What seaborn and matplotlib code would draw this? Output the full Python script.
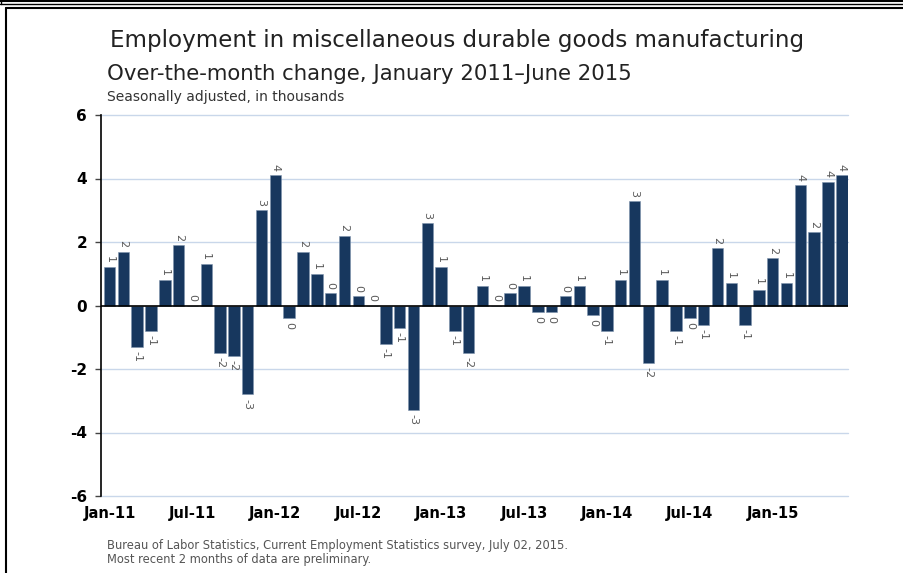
import numpy as np
import pandas as pd
import matplotlib
matplotlib.use("Agg")
import matplotlib.pyplot as plt
from matplotlib.lines import Line2D
import seaborn as sns

# ---- data ----
months = pd.date_range("2011-01-01", "2015-06-01", freq="MS").strftime("%b-%y").tolist()
values = [1.2, 1.7, -1.3, -0.8, 0.8, 1.9, 0.0, 1.3, -1.5, -1.6, -2.8, 3.0,
          4.1, -0.4, 1.7, 1.0, 0.4, 2.2, 0.3, 0.0, -1.2, -0.7, -3.3, 2.6,
          1.2, -0.8, -1.5, 0.6, 0.0, 0.4, 0.6, -0.2, -0.2, 0.3, 0.6, -0.3,
          -0.8, 0.8, 3.3, -1.8, 0.8, -0.8, -0.4, -0.6, 1.8, 0.7, -0.6, 0.5,
          1.5, 0.7, 3.8, 2.3, 3.9, 4.1]
xtick_labels = ["Jan-11", "Jul-11", "Jan-12", "Jul-12", "Jan-13", "Jul-13",
                "Jan-14", "Jul-14", "Jan-15"]
yticks = [-6, -4, -2, 0, 2, 4, 6]

df = pd.DataFrame({"month": months, "value": values})

W, H = 904, 573
fig = plt.figure(figsize=(W / 100, H / 100), dpi=100)
sns.set_style("white")
plt.rcParams["font.family"] = ["DejaVu Sans"]

ax = fig.add_axes([101 / W, 1 - 496 / H, (848 - 101) / W, (496 - 115) / H])
sns.barplot(data=df, x="month", y="value", order=months, color="#17375E",
            width=0.83, edgecolor="#7f93ad", linewidth=0.4, saturation=1,
            ax=ax, zorder=3)

ax.set_xlim(-0.62, 53.45)
ax.set_ylim(-6, 6)
ax.set_yticks(yticks)
ax.set_yticklabels([str(t) for t in yticks], fontweight="bold", fontsize=11,
                   color="black")
for t in yticks:
    if t == 0:
        ax.axhline(0, color="black", lw=1.2, zorder=4)
    else:
        ax.axhline(t, color="#c9d7ea", lw=1.0, zorder=1, clip_on=False)

tick_pos = [months.index(l) for l in xtick_labels]
ax.set_xticks(tick_pos)
ax.set_xticklabels(xtick_labels, fontweight="bold", fontsize=10.5, color="black")
ax.tick_params(axis="x", length=0, pad=7)
ax.tick_params(axis="y", length=4, width=1, direction="out", pad=6,
               left=True, color="#444444")
ax.set_xlabel("")
ax.set_ylabel("")
for s in ["top", "right", "bottom"]:
    ax.spines[s].set_visible(False)
ax.spines["left"].set_color("black")
ax.spines["left"].set_linewidth(1.2)
ax.spines["left"].set_zorder(5)

# data labels
for i, v in enumerate(values):
    lab = int(np.sign(v) * np.floor(abs(v) + 0.5))
    if v >= 0:
        ax.annotate(str(lab), (i, v), xytext=(0, 3), textcoords="offset points",
                    rotation=-90, ha="center", va="bottom", fontsize=8,
                    color="#595959")
    else:
        ax.annotate(str(lab), (i, v), xytext=(0, -3), textcoords="offset points",
                    rotation=-90, ha="center", va="top", fontsize=8,
                    color="#595959")

# titles
fig.text(110 / W, 1 - 40 / H, "Employment in miscellaneous durable goods manufacturing",
         fontsize=16.6, va="center", ha="left", color="#222222")
fig.text(107 / W, 1 - 74 / H, "Over-the-month change, January 2011\u2013June 2015",
         fontsize=15.3, va="center", ha="left", color="#222222")
fig.text(107 / W, 1 - 97 / H, "Seasonally adjusted, in thousands",
         fontsize=10, va="center", ha="left", color="#333333")
fig.text(107 / W, 1 - 546 / H,
         "Bureau of Labor Statistics, Current Employment Statistics survey, July 02, 2015.",
         fontsize=8.3, va="center", ha="left", color="#555555")
fig.text(107 / W, 1 - 560 / H, "Most recent 2 months of data are preliminary.",
         fontsize=8.3, va="center", ha="left", color="#555555")

# frame lines
def hline(y, x0, x1, lw):
    fig.add_artist(Line2D([x0 / W, x1 / W], [1 - y / H, 1 - y / H],
                          transform=fig.transFigure, color="black", lw=lw))

def vline(x, y0, y1, lw):
    fig.add_artist(Line2D([x / W, x / W], [1 - y0 / H, 1 - y1 / H],
                          transform=fig.transFigure, color="black", lw=lw))

hline(0.8, 0, W, 1.5)
hline(4.0, 0, W, 1.0)
hline(8.0, 6, W, 1.5)
vline(6.5, 8, H, 1.5)
vline(1.0, 0, 4, 1.0)

fig.savefig("out.png", dpi=100)
